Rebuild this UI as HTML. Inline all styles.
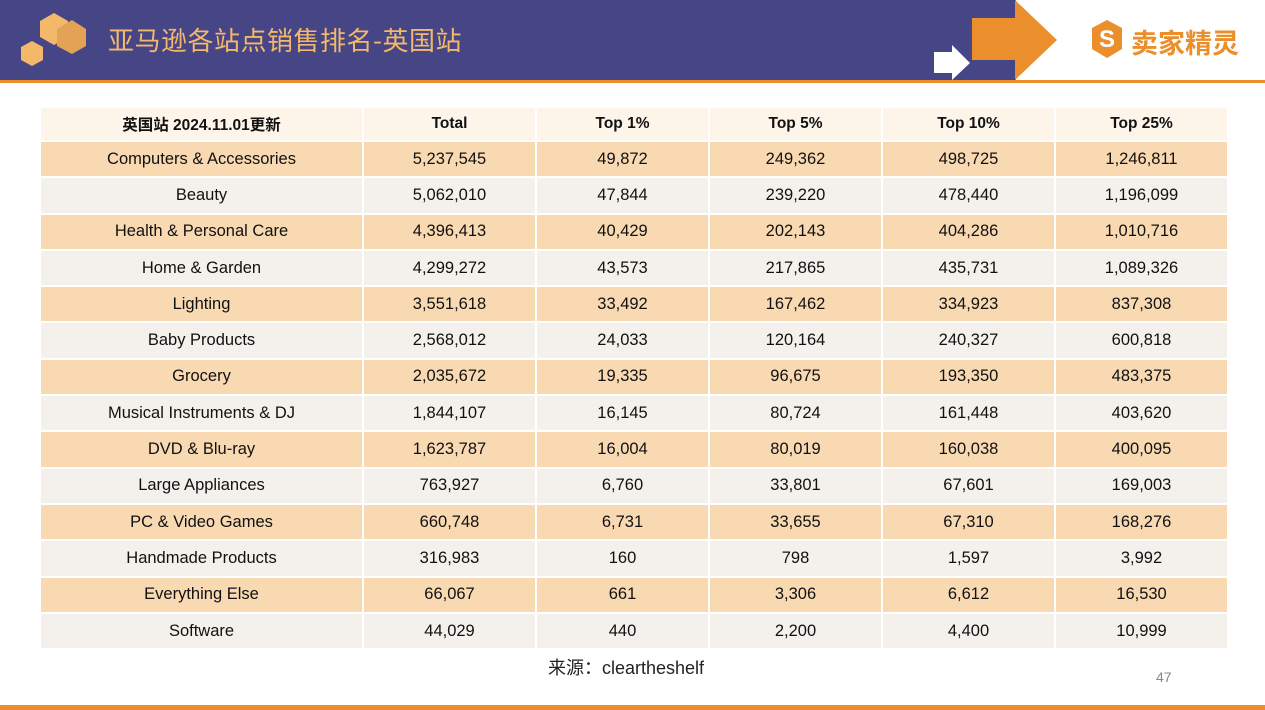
<!DOCTYPE html>
<html><head><meta charset="utf-8">
<style>
*{margin:0;padding:0;box-sizing:border-box}
body{width:1265px;height:710px;background:#fff;position:relative;overflow:hidden;font-family:"Liberation Sans","Noto Sans CJK SC",sans-serif}
.hdr{position:absolute;left:0;top:0;width:1016px;height:80px;background:#464686}
.line{position:absolute;left:0;top:80px;width:1265px;height:3px;background:#ea8f2c}
.title{position:absolute;left:108px;top:21px;font-size:26px;color:#f4b86a;font-family:"Noto Sans CJK SC",sans-serif;letter-spacing:0.5px}
table{position:absolute;left:39px;top:106px;width:1188px;border-collapse:collapse;table-layout:fixed}
td{text-align:center;font-size:16.5px;color:#111;border:2px solid #fff;height:36.3px;padding:0}
tr.h td{background:#fdf4ea;font-weight:bold;font-size:15.5px;height:34px}
tr.o td{background:#f9d9b1}
tr.g td{background:#f4f1ed}
.src{position:absolute;left:548px;top:654px;font-size:18px;color:#222}
.pg{position:absolute;left:1156px;top:669px;font-size:14px;color:#888}
.bot{position:absolute;left:0;top:705px;width:1265px;height:5px;background:#ea8f2c}
</style></head><body>
<div class="hdr"></div>
<svg style="position:absolute;left:0;top:0" width="1265" height="84">
<polygon points="54,13 68,21 68,37 54,45 40,37 40,21" fill="#f4b86a"/>
<polygon points="72,20 86,29 86,46 72,54 57,46 57,29" fill="#e4a255"/>
<polygon points="32,41 43,47 43,60 32,66 21,60 21,47" fill="#f4b86a"/>
<polygon points="972,18 1015,18 1015,0 1057,40 1015,80 1015,60 972,60" fill="#ea8f2c"/>
<polygon points="934,52 952,52 952,45 970,63 952,80 952,73 934,73" fill="#fff"/>
<polygon points="1107,20 1122,28 1122,49 1107,58 1092,49 1092,28" fill="#ea8f2c"/>
<text x="1107" y="47" font-size="24" font-weight="bold" fill="#fff" text-anchor="middle" font-family="Liberation Sans">S</text>
</svg>
<div class="title">亚马逊各站点销售排名-英国站</div>
<div style="position:absolute;left:1131px;top:22px;font-size:27px;color:#ea8f2c;font-weight:bold;font-family:'Noto Sans CJK SC',sans-serif">卖家精灵</div>
<div class="line"></div>
<table>
<colgroup><col style="width:323px"><col style="width:173px"><col style="width:173px"><col style="width:173px"><col style="width:173px"><col style="width:173px"></colgroup>
<tr class="h"><td>英国站 2024.11.01更新</td><td>Total</td><td>Top 1%</td><td>Top 5%</td><td>Top 10%</td><td>Top 25%</td></tr>
<tr class="o"><td>Computers &amp; Accessories</td><td>5,237,545</td><td>49,872</td><td>249,362</td><td>498,725</td><td>1,246,811</td></tr>
<tr class="g"><td>Beauty</td><td>5,062,010</td><td>47,844</td><td>239,220</td><td>478,440</td><td>1,196,099</td></tr>
<tr class="o"><td>Health &amp; Personal Care</td><td>4,396,413</td><td>40,429</td><td>202,143</td><td>404,286</td><td>1,010,716</td></tr>
<tr class="g"><td>Home &amp; Garden</td><td>4,299,272</td><td>43,573</td><td>217,865</td><td>435,731</td><td>1,089,326</td></tr>
<tr class="o"><td>Lighting</td><td>3,551,618</td><td>33,492</td><td>167,462</td><td>334,923</td><td>837,308</td></tr>
<tr class="g"><td>Baby Products</td><td>2,568,012</td><td>24,033</td><td>120,164</td><td>240,327</td><td>600,818</td></tr>
<tr class="o"><td>Grocery</td><td>2,035,672</td><td>19,335</td><td>96,675</td><td>193,350</td><td>483,375</td></tr>
<tr class="g"><td>Musical Instruments &amp; DJ</td><td>1,844,107</td><td>16,145</td><td>80,724</td><td>161,448</td><td>403,620</td></tr>
<tr class="o"><td>DVD &amp; Blu-ray</td><td>1,623,787</td><td>16,004</td><td>80,019</td><td>160,038</td><td>400,095</td></tr>
<tr class="g"><td>Large Appliances</td><td>763,927</td><td>6,760</td><td>33,801</td><td>67,601</td><td>169,003</td></tr>
<tr class="o"><td>PC &amp; Video Games</td><td>660,748</td><td>6,731</td><td>33,655</td><td>67,310</td><td>168,276</td></tr>
<tr class="g"><td>Handmade Products</td><td>316,983</td><td>160</td><td>798</td><td>1,597</td><td>3,992</td></tr>
<tr class="o"><td>Everything Else</td><td>66,067</td><td>661</td><td>3,306</td><td>6,612</td><td>16,530</td></tr>
<tr class="g"><td>Software</td><td>44,029</td><td>440</td><td>2,200</td><td>4,400</td><td>10,999</td></tr>
</table>
<div class="src">来源：cleartheshelf</div>
<div class="pg">47</div>
<div class="bot"></div>
</body></html>
